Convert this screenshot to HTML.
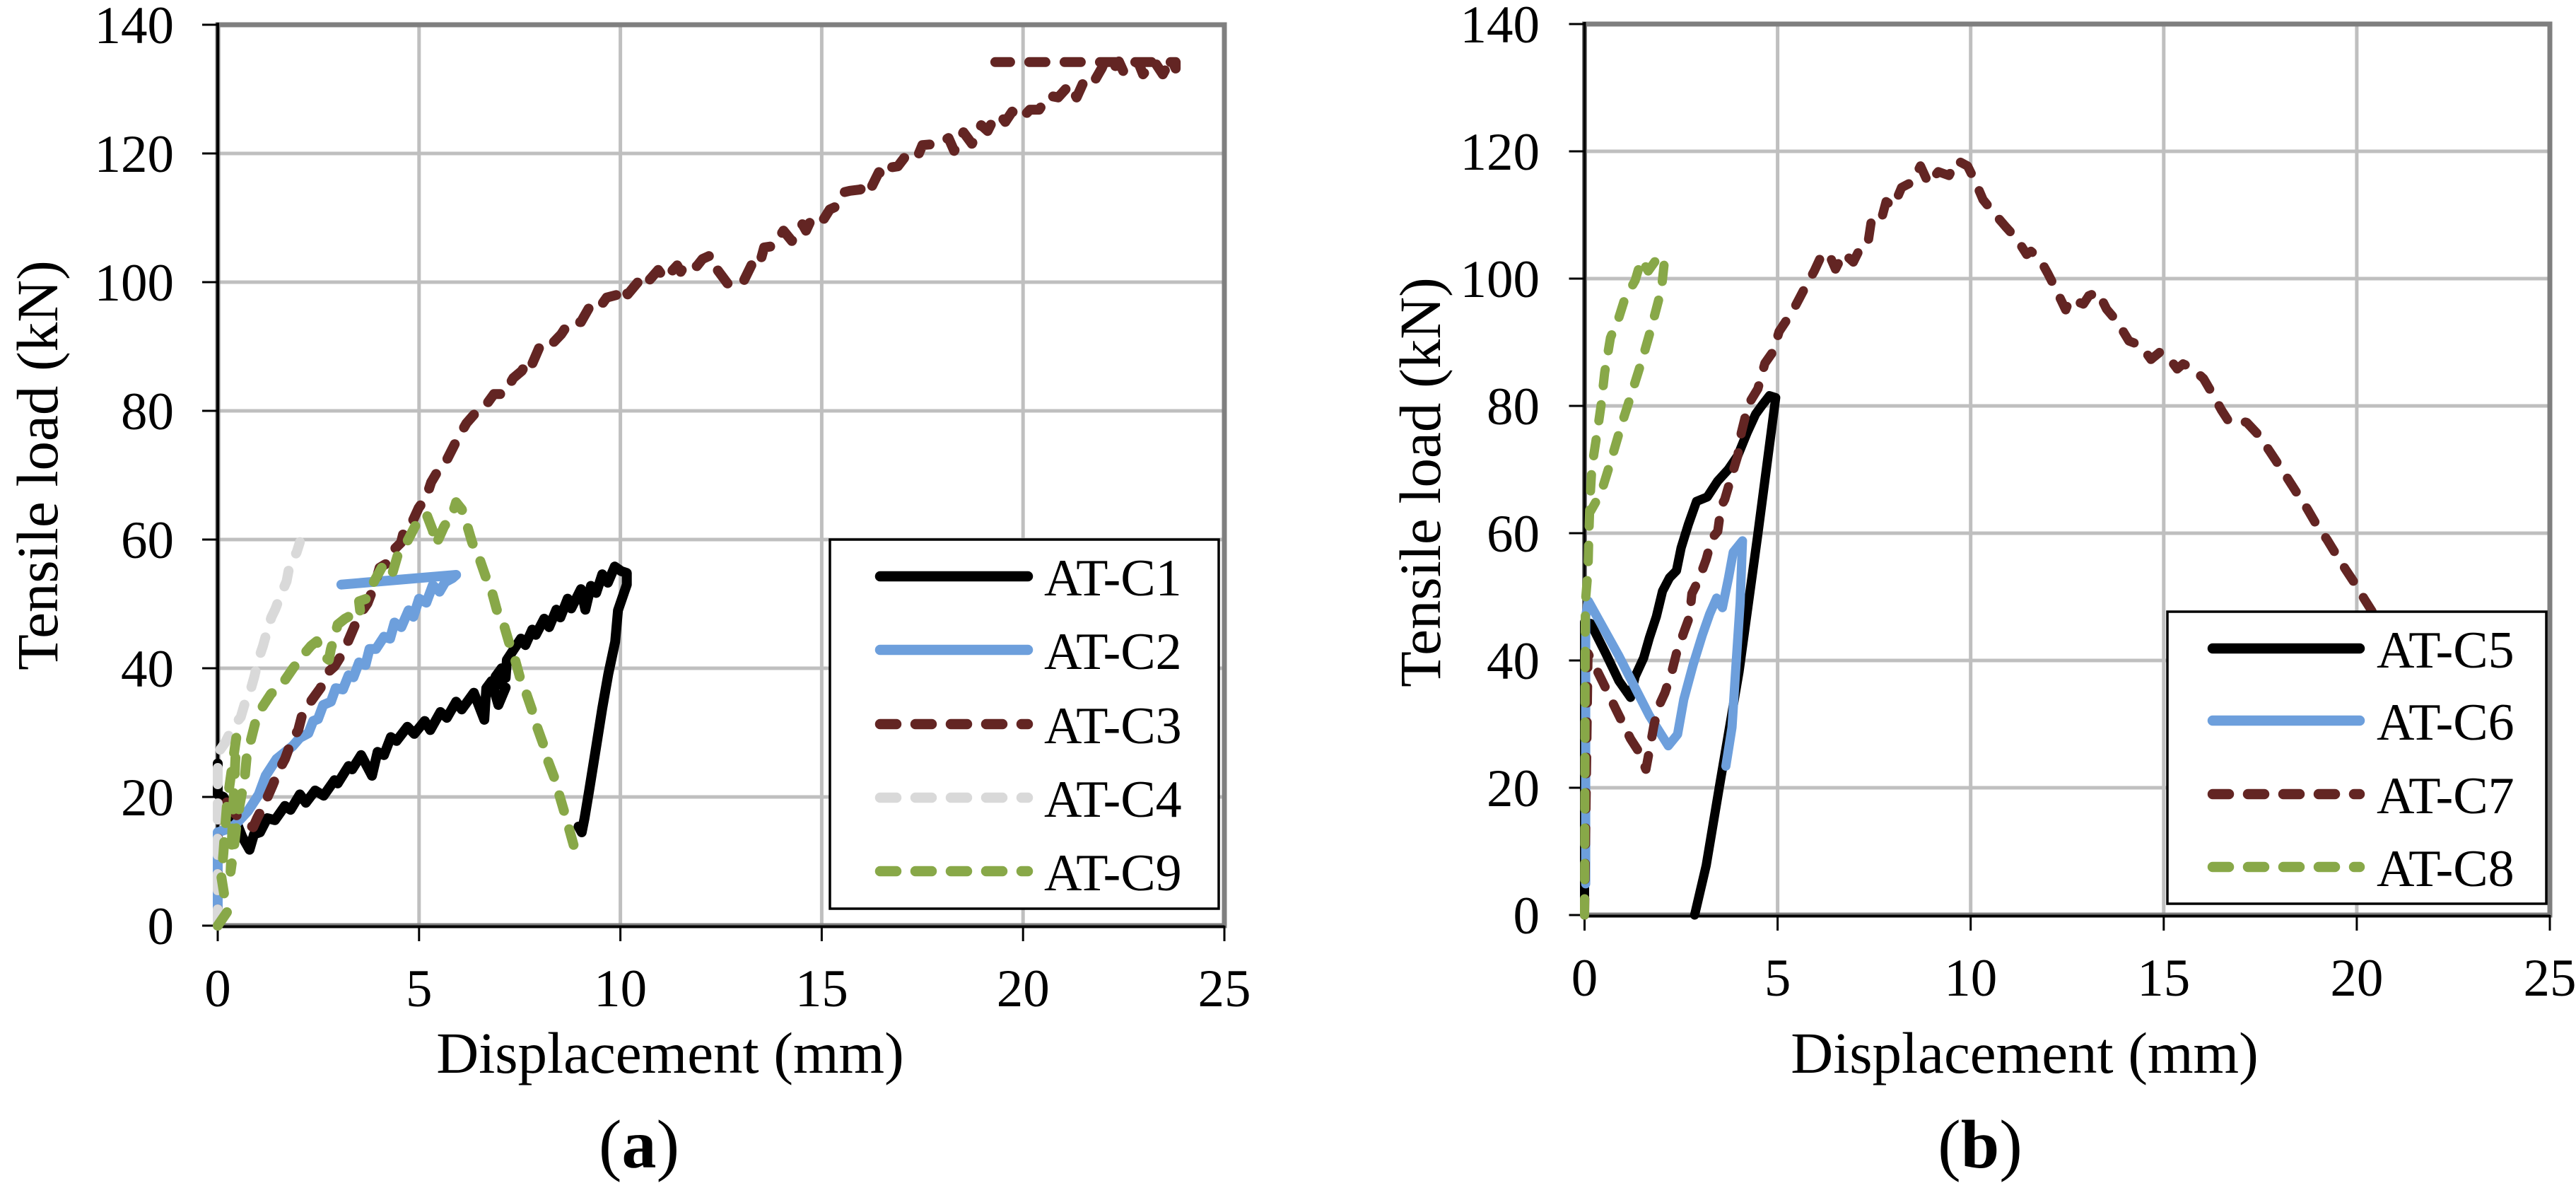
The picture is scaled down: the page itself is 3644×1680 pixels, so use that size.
<!DOCTYPE html>
<html lang="en">
<head>
<meta charset="utf-8">
<title>Tensile load vs displacement</title>
<style>
html,body{margin:0;padding:0;background:#fff;}
body{width:3644px;height:1680px;overflow:hidden;}
svg{display:block;}
text{font-family:"Liberation Serif",serif;fill:#000;}
</style>
</head>
<body>
<svg id="figure" xmlns="http://www.w3.org/2000/svg" width="3644" height="1680" viewBox="0 0 3644 1680">
<rect x="0" y="0" width="3644" height="1680" fill="#fff"/>
<g id="chart-a"></g>
<g id="chart-b"></g>
<text x="904" y="1651" font-size="98" text-anchor="middle">(<tspan font-weight="bold">a</tspan>)</text>
<text x="2801" y="1651" font-size="98" text-anchor="middle">(<tspan font-weight="bold">b</tspan>)</text>
</svg>
<script>
const xTicks = [0, 5, 10, 15, 20, 25];
const yTicks = [0, 20, 40, 60, 80, 100, 120, 140];
const xTitle = "Displacement (mm)";
const yTitle = "Tensile load (kN)";

const c1Disp = [0,0,0.14,0.40,0.61,0.79,0.90,1.05,1.23,1.42,1.67,1.81,2.04,2.19,2.42,2.63,2.90,2.98,3.25,3.34,3.56,3.83,3.97,4.13,4.30,4.44,4.71,4.88,5.14,5.28,5.53,5.69,5.92,6.06,6.36,6.62,6.67,6.80,6.97,7.15,7.00,6.90,7.05,7.15,7.18,7.53,7.64,7.81,7.90,8.11,8.23,8.41,8.51,8.69,8.78,9.02,9.13,9.27,9.40,9.55,9.69,9.86,10.02,10.16,10.16,9.94,9.87,9.70,9.55,9.39,9.23,9.11,9.04,8.96];
const c1Load = [25.2,20.4,20.0,17.1,13.8,11.8,14.2,14.5,16.7,16.4,18.6,18.0,20.4,19.1,21.0,20.2,22.6,22.1,24.8,24.3,26.5,23.3,27.0,26.5,29.3,28.7,30.9,29.8,31.8,30.4,33.2,32.3,34.8,33.6,36.2,32.0,36.9,38.0,34.3,37.0,37.5,38.7,40.0,38.5,41.3,44.6,43.6,46.0,45.2,47.7,46.4,49.1,47.9,50.8,49.3,52.3,49.1,52.8,51.7,54.6,53.3,55.8,55.1,54.8,53.0,49.0,44.1,39.1,33.8,27.5,21.2,16.7,14.5,15.4];

const c2Disp = [0,0,0.37,0.54,0.75,1.02,1.19,1.46,1.86,2.04,2.25,2.37,2.49,2.62,2.81,2.93,3.11,3.25,3.37,3.51,3.67,3.77,3.93,4.13,4.28,4.39,4.56,4.74,4.86,5.00,5.18,5.34,5.51,5.65,5.83,5.92,3.07];
const c2Load = [0,14.5,15.3,16.4,17.8,20.4,23.3,25.9,27.9,29.2,29.9,31.8,32.1,34.3,34.8,36.9,36.7,38.9,38.6,40.9,40.5,43.0,43.0,44.9,44.6,47.1,46.4,49.0,48.0,50.8,50.2,52.9,51.9,53.4,54.0,54.5,53.0];

const c3Disp = [0,0.02,0.14,0.37,0.54,0.88,0.98,1.16,1.37,1.49,1.67,1.84,2.00,2.11,2.55,2.76,2.90,3.07,3.23,3.34,3.51,3.72,3.90,4.02,4.20,4.37,4.55,4.65,4.83,4.99,5.18,5.30,5.48,5.69,5.95,6.18,6.39,6.64,6.86,7.11,7.34,7.55,7.71,7.79,7.99,8.18,8.53,8.71,9.02,9.22,9.43,9.66,9.90,10.09,10.18,10.50,10.62,10.94,11.10,11.41,11.50,11.62,11.90,12.04,12.25,12.41,12.66,12.85,13.04,13.29,13.45,13.57,13.80,14.05,14.26,14.52,14.61,14.73,14.98,15.20,15.41,15.57,15.70,15.96,16.06,16.19,16.42,16.54,16.68,16.89,17.12,17.38,17.50,17.89,18.15,18.29,18.52,18.73,18.96,19.12,19.21,19.43,19.56,19.73,19.96,20.17,20.40,20.63,20.87,21.16,21.33,21.51,21.72,21.95,22.02,22.21,22.38,22.51,22.77,22.86,22.98,23.26,23.47,23.68,23.79,23.79,19.31];
const c3Load = [0,20.2,20.0,17.8,16.7,15.3,16.7,18.9,21.9,23.8,25.9,28.8,30.4,33.1,36.9,39.5,40.3,42.0,44.1,45.7,48.2,50.1,53.0,55.6,56.3,58.4,59.5,62.0,62.7,64.9,66.6,68.9,70.8,72.4,75.6,78.1,79.6,80.7,82.6,82.6,85.1,86.2,87.8,87.0,89.9,89.6,91.9,93.6,93.8,96.0,95.6,97.6,98.0,99.3,98.1,100.5,99.6,101.9,100.5,102.6,101.6,102.9,102.5,103.6,104.2,101.9,99.8,99.5,99.9,103.1,102.6,105.4,105.6,108.0,106.4,109.0,108.0,109.6,109.1,111.3,111.9,114.0,114.2,114.4,115.1,114.2,117.1,116.4,117.8,118.0,119.9,119.5,121.3,121.5,122.4,120.4,123.3,121.5,124.4,123.5,124.6,126.0,124.9,126.5,125.4,126.8,126.8,129.0,128.7,130.7,128.7,131.2,130.7,133.2,134.2,132.9,134.3,132.5,133.4,134.2,132.3,134.3,132.3,134.7,133.2,134.2,134.2];

const c4Disp = [0,0,0.18,0.38,0.57,0.69,0.81,0.91,1.00,1.12,1.20,1.33,1.43,1.57,1.71,1.79,1.96,2.04];
const c4Load = [0,26.8,28.4,30.9,32.4,34.9,36.5,38.7,41.2,43.4,45.2,47.9,49.2,51.5,53.5,56.2,58.0,59.6];

const c9Disp = [0,0.23,0.09,0.14,0.19,0.23,0.32,0.40,0.46,0.32,0.40,0.46,0.54,0.67,0.72,0.81,0.93,1.11,1.32,1.63,1.87,2.18,2.32,2.46,2.62,2.76,2.81,2.90,2.98,3.16,3.42,3.55,3.51,3.69,3.84,4.07,4.20,4.34,4.48,4.69,4.92,5.18,5.34,5.42,5.62,5.83,5.92,6.06,6.18,6.32,6.48,6.65,6.79,6.93,7.09,7.23,7.36,7.50,7.64,7.80,7.90,8.10,8.17,8.37,8.45,8.61,8.70,8.84,9.01];
const c9Load = [0,2.1,7.6,11.2,15.6,18.9,23.0,26.6,29.2,8.4,12.0,15.3,18.6,23.0,26.3,28.5,31.5,34.0,36.0,37.8,40.0,42.5,43.5,44.2,42.0,41.3,43.0,44.9,46.8,47.7,48.6,48.2,50.4,50.8,53.0,55.6,56.3,54.8,57.8,59.5,62.3,64.0,61.4,59.2,62.0,64.0,65.8,64.7,62.5,59.5,57.4,54.3,52.3,49.1,47.1,44.1,41.9,38.7,36.5,33.6,31.4,27.9,26.1,22.8,21.0,17.6,15.6,12.5,10.2];

const c5Disp = [0,0,0.16,0.55,0.89,1.19,1.31,1.53,1.68,1.86,2.02,2.20,2.38,2.50,2.69,2.90,3.18,3.45,3.72,3.97,4.21,4.43,4.61,4.79,4.95,4.49,4.00,3.51,3.15,2.85];
const c5Load = [0,46,45.8,41.1,36.8,34.2,37.5,40.4,43.6,46.9,50.9,53.0,54.1,57.7,61.4,65.0,65.7,68.2,70.0,72.2,75.8,78.7,80.2,81.6,81.3,59.9,38.2,20.8,7.8,0];

const c6Disp = [0.03,0.03,0.10,0.89,1.68,2.17,2.41,2.57,2.81,3.05,3.24,3.42,3.57,3.73,3.85,4.09,4.03,3.91,3.82,3.66];
const c6Load = [4.9,47,49.3,40.7,31.3,26.6,28.4,33.9,39.3,44.0,47.3,49.8,48.3,53.0,57.0,58.8,49.1,38.2,29.5,23.4];

const c7Disp = [0,0.09,0.31,0.52,0.83,1.19,1.38,1.59,1.68,1.80,1.92,2.08,2.26,2.38,2.57,2.72,2.78,2.96,3.15,3.30,3.45,3.54,3.63,3.79,3.97,4.06,4.18,4.27,4.49,4.67,4.88,5.04,5.40,5.71,5.95,6.14,6.32,6.50,6.71,6.96,7.23,7.35,7.42,7.60,7.70,7.81,8.00,8.21,8.49,8.70,8.91,9.16,9.44,9.64,9.92,10.13,10.32,10.59,10.90,11.20,11.45,11.56,11.78,12.00,12.20,12.46,12.57,12.92,13.06,13.30,13.52,13.80,14.10,14.40,14.67,14.89,15.08,15.35,15.50,15.72,16.03,16.27,16.50,16.67,16.78,17.15,17.46,17.73,17.97,18.23,18.46,18.72,18.96,19.23,19.45,19.71,19.95,20.19,20.44,20.72];
const c7Load = [0,41.1,38.6,36.0,32.1,27.7,25.9,22.9,25.9,29.9,32.8,34.9,38.2,41.1,44.4,46.9,50.5,52.7,55.9,59.2,60.3,64.3,65.3,68.6,72.2,75.8,78.7,80.5,82.7,86.7,88.5,91.7,95.0,98.6,101.2,103.7,104.0,101.5,104.0,102.6,105.9,106.0,108.8,108.4,109.6,112.1,111.3,114.3,115.2,117.7,114.9,116.8,116.2,118.6,117.7,115.1,112.4,110.4,108.2,106.2,103.8,104.3,103.2,100.8,98.4,95.1,96.8,96.0,97.3,97.9,95.2,93.2,90.2,89.5,87.3,88.4,88.0,85.8,86.6,86.0,84.3,81.8,79.3,77.7,78.0,77.4,75.4,73.0,70.8,68.4,66.2,63.8,61.3,59.0,56.8,54.3,52.1,49.7,47.3,44.6];

const c8Disp = [0,0.02,0.09,0.11,0.14,0.19,0.31,0.43,0.52,0.67,0.89,1.04,1.31,1.47,1.65,1.86,2.08,1.99,1.74,1.50,1.22,0.95,0.67,0.43,0.16];
const c8Load = [0,49.1,54.1,59.2,65.0,70.4,75.1,80.2,85.2,90.7,93.9,96.8,99.7,103.0,101.2,103.0,103.3,98.3,92.5,87.4,82.0,76.9,71.1,66.4,63.5];

const legendA = ["AT-C1", "AT-C2", "AT-C3", "AT-C4", "AT-C9"];
const legendB = ["AT-C5", "AT-C6", "AT-C7", "AT-C8"];

const NS = "http://www.w3.org/2000/svg";
const GRID = "#bfbfbf", FRAME = "#7f7f7f";
const BLACK = "#000000", BLUE = "#6d9fdc", BROWN = "#632523", GREY = "#d9d9d9", GREEN = "#88a848";
const DASH = "23 27";

function make(parent, tag, attrs) {
  const el = document.createElementNS(NS, tag);
  for (const k in attrs) el.setAttribute(k, attrs[k]);
  parent.appendChild(el);
  return el;
}

function drawChart(root, cfg) {
  const sx = v => cfg.x0 + (v - 0) * (cfg.x25 - cfg.x0) / 25;
  const sy = v => cfg.y0 - (v - 0) * (cfg.y0 - cfg.y140) / 140;

  xTicks.forEach(t => {
    if (t === 0 || t === 25) return;
    const g = make(root, "line", {x1: sx(t), x2: sx(t), y1: sy(140), y2: sy(0), stroke: GRID, "stroke-width": 5});
    
    
  });
  yTicks.forEach(t => {
    if (t === 0 || t === 140) return;
    const g = make(root, "line", {x1: sx(0), x2: sx(25), y1: sy(t), y2: sy(t), stroke: GRID, "stroke-width": 5});
    
    
  });

  const frame = make(root, "rect", {x: sx(0), y: sy(140), width: sx(25) - sx(0), height: sy(0) - sy(140), fill: "none", stroke: FRAME, "stroke-width": 7});
  
  

  const yAxis = make(root, "line", {x1: sx(0), x2: sx(0), y1: sy(140) - 3, y2: sy(0) + 2, stroke: "#000", "stroke-width": 4});
  
  
  const xAxis = make(root, "line", {x1: sx(0), x2: sx(25), y1: sy(0) + 1.5, y2: sy(0) + 1.5, stroke: "#000", "stroke-width": 4});
  
  

  yTicks.forEach(t => {
    const m = make(root, "line", {x1: sx(0) - 22, x2: sx(0), y1: sy(t), y2: sy(t), stroke: "#000", "stroke-width": 3});
    
    
    const l = make(root, "text", {x: cfg.yLabelX, y: sy(t) + 26, "font-size": 75, "text-anchor": "end"});
    
    
    l.textContent = t;
  });
  xTicks.forEach(t => {
    const m = make(root, "line", {x1: sx(t), x2: sx(t), y1: sy(0), y2: sy(0) + 22, stroke: "#000", "stroke-width": 3});
    
    
    const l = make(root, "text", {x: sx(t), y: cfg.xLabelY, "font-size": 75, "text-anchor": "middle"});
    
    
    l.textContent = t;
  });

  const xt = make(root, "text", {x: cfg.xTitleX, y: 1517, "font-size": 83, "text-anchor": "middle"});
  
  
  xt.textContent = xTitle;
  const yt = make(root, "text", {transform: "translate(" + cfg.yTitleX + "," + cfg.yTitleY + ") rotate(-90)", "font-size": 83, "text-anchor": "middle"});
  
  
  yt.textContent = yTitle;

  cfg.series.forEach(s => {
    const pts = s.xs.map((v, i) => sx(v).toFixed(1) + "," + sy(s.ys[i]).toFixed(1)).join(" ");
    const attrs = {points: pts, fill: "none", stroke: s.color, "stroke-width": cfg.lineWidth, "stroke-linecap": "round", "stroke-linejoin": "round"};
    if (s.dash) attrs["stroke-dasharray"] = DASH;
    const p = make(root, "polyline", attrs);
    
    
  });

  const lg = make(root, "g", {});
  
  
  const box = make(lg, "rect", {x: cfg.legend.x, y: cfg.legend.y, width: cfg.legend.w, height: cfg.legend.h, fill: "#fff", stroke: "#000", "stroke-width": 3.5});
  
  
  cfg.series.forEach((s, i) => {
    const y = cfg.legend.rows[i];
    const attrs = {x1: cfg.legend.lineX1, x2: cfg.legend.lineX2, y1: y, y2: y, stroke: s.color, "stroke-width": 14.5, "stroke-linecap": "round"};
    if (s.dash) attrs["stroke-dasharray"] = DASH;
    const sw = make(lg, "line", attrs);
    
    
    const t = make(lg, "text", {x: cfg.legend.textX, y: y + 27, "font-size": 74});
    
    
    t.textContent = cfg.names[i];
  });
}

drawChart(document.getElementById("chart-a"), {
  x0: 308, x25: 1732, y0: 1309, y140: 35,
  yLabelX: 246, xLabelY: 1423, xTitleX: 948, yTitleX: 81, yTitleY: 658, lineWidth: 14,
  names: legendA,
  legend: {x: 1174, y: 763, w: 550, h: 522, lineX1: 1245, lineX2: 1454, textX: 1477, rows: [815, 919, 1024, 1128, 1232]},
  series: [
    {name: "at-c1", xs: c1Disp, ys: c1Load, color: BLACK, dash: false},
    {name: "at-c2", xs: c2Disp, ys: c2Load, color: BLUE, dash: false},
    {name: "at-c3", xs: c3Disp, ys: c3Load, color: BROWN, dash: true},
    {name: "at-c4", xs: c4Disp, ys: c4Load, color: GREY, dash: true},
    {name: "at-c9", xs: c9Disp, ys: c9Load, color: GREEN, dash: true}
  ]
});

drawChart(document.getElementById("chart-b"), {
  x0: 2241.5, x25: 3607, y0: 1294, y140: 34,
  yLabelX: 2178, xLabelY: 1408, xTitleX: 2864, yTitleX: 2037, yTitleY: 682, lineWidth: 13,
  names: legendB,
  legend: {x: 3066, y: 865, w: 536, h: 413, lineX1: 3130, lineX2: 3338, textX: 3362, rows: [917, 1019, 1123, 1226]},
  series: [
    {name: "at-c5", xs: c5Disp, ys: c5Load, color: BLACK, dash: false},
    {name: "at-c6", xs: c6Disp, ys: c6Load, color: BLUE, dash: false},
    {name: "at-c7", xs: c7Disp, ys: c7Load, color: BROWN, dash: true},
    {name: "at-c8", xs: c8Disp, ys: c8Load, color: GREEN, dash: true}
  ]
});
</script>
</body>
</html>
